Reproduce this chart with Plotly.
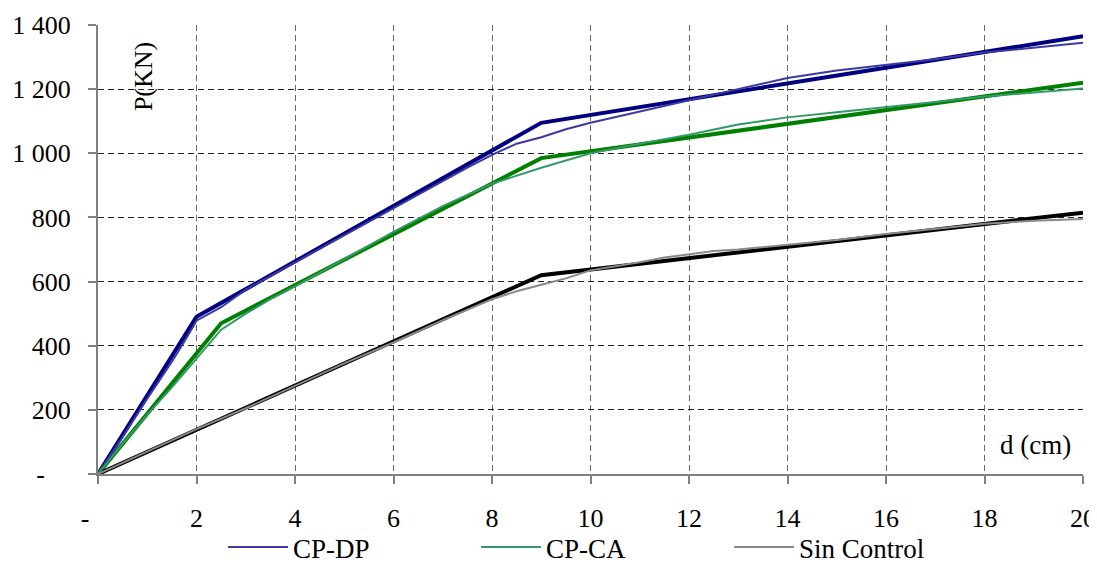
import plotly.graph_objects as go

# Experimental curves (thin)
dp_x = [0, 0.5, 1, 1.5, 1.8, 2, 2.5, 3, 4, 5, 6, 7, 7.5, 8, 8.5, 9, 9.5, 10, 11, 12, 13, 14, 15, 16, 17, 18, 19, 20]
dp_y = [0, 115, 235, 350, 425, 478, 520, 575, 660, 745, 830, 915, 955, 995, 1030, 1050, 1075, 1095, 1130, 1165, 1200, 1235, 1258, 1276, 1293, 1314, 1330, 1345]

ca_x = [0, 0.5, 1, 1.5, 2, 2.5, 3, 3.5, 4, 5, 6, 7, 8, 9, 10, 11, 12, 13, 14, 15, 16, 17, 18, 19, 20]
ca_y = [0, 95, 185, 270, 360, 450, 500, 545, 585, 670, 755, 835, 905, 955, 1000, 1030, 1058, 1090, 1112, 1128, 1143, 1160, 1177, 1190, 1202]

sc_x = [0, 1, 2, 3, 4, 5, 6, 7, 8, 8.5, 9, 9.5, 10, 11, 11.5, 12, 12.5, 13, 14, 15, 16, 17, 18, 19, 20]
sc_y = [0, 70, 140, 205, 275, 345, 410, 480, 545, 570, 590, 610, 635, 660, 675, 685, 695, 700, 715, 730, 748, 765, 780, 790, 795]

# Idealized multilinear models (thick)
dp_fit_x = [0, 2, 9, 20]
dp_fit_y = [0, 490, 1095, 1365]
ca_fit_x = [0, 2.5, 9, 20]
ca_fit_y = [0, 470, 985, 1220]
sc_fit_x = [0, 9, 20]
sc_fit_y = [0, 620, 815]

x_ticks = [0, 2, 4, 6, 8, 10, 12, 14, 16, 18, 20]
x_ticktext = ["-\u2007\u2007", "2", "4", "6", "8", "10", "12", "14", "16", "18", "20"]
y_ticks = [0, 200, 400, 600, 800, 1000, 1200, 1400]
y_ticktext = ["-\u2007\u2007", "200", "400", "600", "800", "1 000", "1 200", "1 400"]

FONT = "Liberation Serif"

fig = go.Figure()
for xs, ys, col in [(dp_fit_x, dp_fit_y, "#000080"),
                    (ca_fit_x, ca_fit_y, "#008000"),
                    (sc_fit_x, sc_fit_y, "#000000")]:
    fig.add_trace(go.Scatter(x=xs, y=ys, mode="lines", showlegend=False,
                             line=dict(color=col, width=4)))

for xs, ys, col, name in [(dp_x, dp_y, "#3a3aa0", "CP-DP"),
                          (ca_x, ca_y, "#339966", "CP-CA"),
                          (sc_x, sc_y, "#8a8a8a", "Sin Control")]:
    fig.add_trace(go.Scatter(x=xs, y=ys, mode="lines", name=name,
                             line=dict(color=col, width=2)))

fig.update_layout(
    width=1089, height=566,
    margin=dict(l=90, r=14, t=17, b=100, autoexpand=False),
    plot_bgcolor="white", paper_bgcolor="white",
    font=dict(family=FONT, size=26, color="black"),
    showlegend=True,
    legend=dict(orientation="h", x=0.127, xanchor="left", y=-0.2183, yanchor="bottom",
                entrywidth=178, entrywidthmode="pixels", itemwidth=60,
                font=dict(family=FONT, size=27), bgcolor="rgba(0,0,0,0)"),
    xaxis=dict(range=[0, 20], tickvals=x_ticks, ticktext=x_ticktext,
               showline=True, linecolor="#808080", linewidth=2,
               ticks="outside", ticklen=8, tickcolor="#808080", tickwidth=2,
               ticklabelstandoff=12, automargin=False,
               showgrid=True, gridcolor="#666666", gridwidth=1, griddash="6px,4px",
               zeroline=False),
    yaxis=dict(range=[0, 1400], tickvals=y_ticks, ticktext=y_ticktext,
               showline=True, linecolor="#808080", linewidth=2,
               ticks="outside", ticklen=8, tickcolor="#808080", tickwidth=2,
               ticklabelstandoff=12, automargin=False,
               showgrid=True, gridcolor="#222222", gridwidth=1, griddash="6px,4px",
               zeroline=False),
    annotations=[
        dict(text="P(KN)", xref="paper", yref="paper", x=0.0457, y=0.884,
             xanchor="center", yanchor="middle",
             showarrow=False, textangle=-90, font=dict(family=FONT, size=26)),
        dict(text="d (cm)", xref="paper", yref="paper", x=0.990, y=0.0646,
             xanchor="right", yanchor="middle",
             showarrow=False, font=dict(family=FONT, size=27)),
    ],
)

fig.write_html("out.html")
